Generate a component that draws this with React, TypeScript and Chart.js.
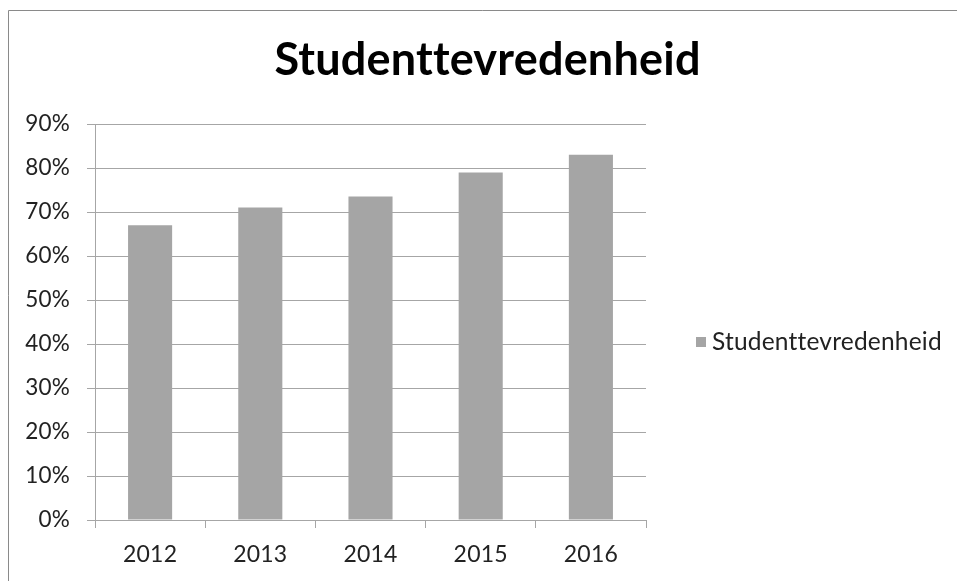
import React, { useEffect, useRef } from "react";
import { Chart, registerables } from "chart.js";

Chart.register(...registerables);

const categories = ["2012", "2013", "2014", "2015", "2016"];
const seriesName = "Studenttevredenheid";
const seriesValues = [67, 71, 73.5, 79, 83];
const yTicks = [0, 10, 20, 30, 40, 50, 60, 70, 80, 90];
const chartTitle = "Studenttevredenheid";

const FONT = "Lato, 'Noto Sans', sans-serif";
const GRID = "#a6a6a6";
const BAR = "#a5a5a5";

const frameAndLegend = {
  id: "frameAndLegend",
  beforeDraw(chart: any) {
    const ctx = chart.ctx;
    ctx.save();
    ctx.fillStyle = "#ffffff";
    ctx.fillRect(0, 0, chart.width, chart.height);
    ctx.strokeStyle = "#8a8a8a";
    ctx.lineWidth = 1;
    ctx.beginPath();
    ctx.moveTo(8.5, chart.height);
    ctx.lineTo(8.5, 10.5);
    ctx.lineTo(chart.width, 10.5);
    ctx.stroke();
    ctx.restore();
    (ctx as any).letterSpacing = "0.2px";
  },
  afterDraw(chart: any) {
    const ctx = chart.ctx;
    const ds = chart.data.datasets[0];
    ctx.save();
    (ctx as any).letterSpacing = "0.2px";
    ctx.fillStyle = ds.backgroundColor;
    ctx.fillRect(696, 337, 10, 10);
    ctx.fillStyle = "#222222";
    ctx.font = `24.5px ${FONT}`;
    ctx.textBaseline = "middle";
    ctx.textAlign = "left";
    ctx.fillText(ds.label, 712, 342);
    ctx.restore();
  },
};

export default function App() {
  const ref = useRef<HTMLCanvasElement | null>(null);
  useEffect(() => {
    if (!ref.current) return;
    const chart = new Chart(ref.current, {
      type: "bar",
      data: {
        labels: categories,
        datasets: [
          {
            label: seriesName,
            data: seriesValues,
            backgroundColor: BAR,
            borderWidth: 0,
            barPercentage: 0.4,
            categoryPercentage: 1,
            yAxisID: "y",
          },
        ],
      },
      options: {
        animation: false,
        responsive: false,
        devicePixelRatio: 1,
        layout: { padding: { left: 18, right: 0, top: 0, bottom: 0 } },
        plugins: {
          legend: { display: false },
          tooltip: { enabled: false },
          title: {
            display: true,
            text: chartTitle,
            color: "#000000",
            font: { family: FONT, size: 45, weight: "bold", lineHeight: 1.2 },
            padding: { top: 33.4, bottom: 36.6 },
          },
        },
        scales: {
          x: {
            type: "category",
            grid: {
              display: true,
              drawOnChartArea: false,
              drawTicks: true,
              tickLength: 8,
              color: GRID,
              offset: true,
            },
            border: { display: true, color: GRID },
            ticks: {
              color: "#222222",
              font: { family: FONT, size: 23 },
              padding: 13,
              maxRotation: 0,
            },
            afterFit: (s: any) => {
              s.height = 61;
            },
          },
          y: {
            type: "linear",
            position: "left",
            min: 0,
            max: 90,
            afterBuildTicks: (s: any) => {
              s.ticks = yTicks.map((v) => ({ value: v }));
            },
            grid: {
              color: GRID,
              tickLength: 8,
              drawTicks: true,
            },
            border: { display: true, color: GRID },
            ticks: {
              color: "#222222",
              font: { family: FONT, size: 22.5 },
              padding: 17,
              callback: (v: any) => `${v}%`,
            },
            afterFit: (s: any) => {
              s.width = 77;
            },
          },
          yR: {
            type: "linear",
            position: "right",
            display: true,
            grid: { display: false, drawTicks: false },
            border: { display: false },
            ticks: { display: false },
            afterFit: (s: any) => {
              s.width = 311;
            },
          },
        },
      },
      plugins: [frameAndLegend],
    } as any);
    return () => chart.destroy();
  }, []);
  return (
    <div style={{ position: "absolute", left: 0, top: 0, width: 957, height: 581 }}>
      <canvas ref={ref} width={957} height={581} style={{ display: "block" }} />
    </div>
  );
}
